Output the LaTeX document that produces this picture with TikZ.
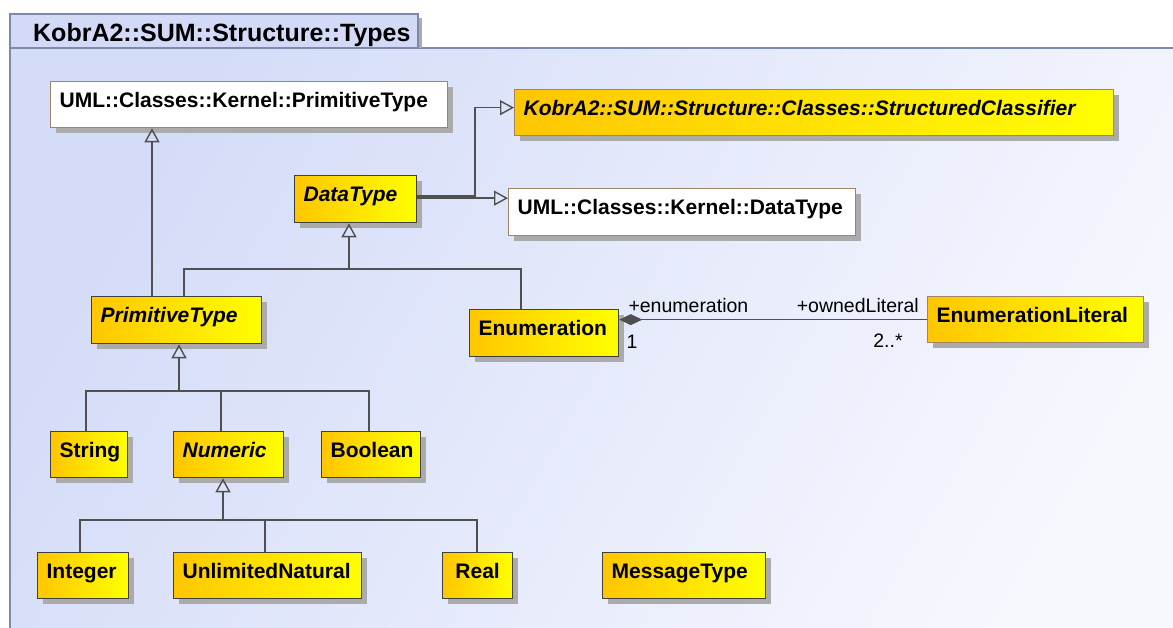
\documentclass[tikz,border=0pt]{standalone}
\usepackage{fontspec}
\setmainfont{Liberation Sans}
\usetikzlibrary{arrows.meta,shadows,calc}

\definecolor{lineC}{HTML}{505050}
\definecolor{darkB}{HTML}{404040}
\definecolor{brownB}{HTML}{A08468}
\definecolor{yOr}{HTML}{FFC600}
\definecolor{yYe}{HTML}{FFFF00}
\definecolor{bgA}{HTML}{D4DCF8}
\definecolor{bgB}{HTML}{F7F8FE}
\definecolor{tabC}{HTML}{D2DAF8}
\definecolor{frameC}{HTML}{7C8AAC}
\definecolor{shadowC}{HTML}{ABABAB}

\tikzset{
  cls/.style={draw=darkB, line width=1.3pt, anchor=north west, inner xsep=9pt, inner ysep=0pt,
    text height=15pt, text depth=10pt, align=left,
    font=\fontsize{21}{24}\selectfont\bfseries,
    general shadow={fill=shadowC, shadow xshift=5pt, shadow yshift=-5pt},
    execute at begin node={\hyphenpenalty=10000\exhyphenpenalty=10000}},
  ycls/.style={cls, left color=yOr, right color=yYe},
  wcls/.style={cls, fill=white, draw=brownB},
  bcls/.style={ycls, draw=brownB},
  abst/.style={font=\fontsize{21}{24}\selectfont\bfseries\itshape},
  sz/.style n args={2}{minimum height=#2pt, text width=#1pt},
  line/.style={draw=lineC, line width=1.5pt},
  gen/.style={line, -{Triangle[open, length=14pt, width=15pt, line width=1.4pt]}},
  comp/.style={line, -{Diamond[length=23pt, width=11pt]}},
  lbl/.style={font=\fontsize{19.5}{22}\selectfont, inner sep=0pt, text=black}
}

\begin{document}
\begin{tikzpicture}[x=1pt,y=-1pt]
\useasboundingbox (0,0) rectangle (1173,628);

% package frame
\shade[left color=bgA, right color=bgB, shading angle=60] (10,48) rectangle (1200,660);
\draw[frameC, line width=1.5pt] (1200,48) -- (10,48) -- (10,660);
\fill[shadowC] (418.5,18) rectangle (422,48);
\draw[fill=tabC, draw=frameC, line width=1.5pt] (10,14) rectangle (418,48);
\node[anchor=base west, font=\fontsize{25}{28}\selectfont\bfseries, inner sep=0pt] (title) at (33,42) {KobrA2::SUM::Structure::Types};

% classes
\node[wcls, sz={379}{46}] (upml) at (50,81) {UML::Classes::Kernel::PrimitiveType};
\node[bcls, abst, sz={581}{46}] (sc) at (514,89) {KobrA2::SUM::Structure::Classes::StructuredClassifier};
\node[ycls, abst, sz={104}{47}] (dt) at (294,175) {DataType};
\node[wcls, sz={329}{47}] (udt) at (508,188) {UML::Classes::Kernel::DataType};
\node[ycls, abst, sz={152}{47}] (prim) at (91,296) {PrimitiveType};
\node[ycls, sz={131}{47}] (enum) at (469,309) {Enumeration};
\node[bcls, sz={198}{46}] (lit) at (927,296) {EnumerationLiteral};
\node[ycls, sz={59}{46}] (string) at (50,431) {String};
\node[ycls, abst, sz={92}{46}] (numeric) at (173,431) {Numeric};
\node[ycls, sz={81}{46}] (boolean) at (321,431) {Boolean};
\node[ycls, sz={73}{46}] (int) at (37,552) {Integer};
\node[ycls, sz={170}{46}] (unl) at (173,552) {UnlimitedNatural};
\node[ycls, sz={52}{46}, align=center] (real) at (442,552) {Real};
\node[ycls, sz={145}{46}] (msg) at (602,552) {MessageType};

% generalizations
\draw[gen] ([xshift=61pt]prim.north west) -- ([xshift=61pt]prim.north west |- upml.south);
\draw[gen] ([yshift=3pt]dt.east) -| ([xshift=-39pt,yshift=5pt]sc.west) -- ([yshift=5pt]sc.west);
\draw[gen] ([yshift=1pt]dt.east) -- ([yshift=1pt]dt.east -| udt.west);

\coordinate (dtbar) at (349,269);
\draw[gen] (dtbar) -- (dtbar |- dt.south);
\draw[line] ([xshift=93pt]prim.north west) |- (dtbar) -| ([xshift=52pt]enum.north west);

\coordinate (pbar) at (179,391);
\draw[gen] (pbar) -- (pbar |- prim.south);
\draw[line] ([xshift=36pt]string.north west) |- (pbar) -| ([xshift=48pt]boolean.north west);
\draw[line] ([xshift=48pt]numeric.north west) -- ([xshift=48pt]numeric.north west |- pbar);

\coordinate (nbar) at (223,520);
\draw[gen] (nbar) -- (nbar |- numeric.south);
\draw[line] ([xshift=43pt]int.north west) |- (nbar) -| ([xshift=35pt]real.north west);
\draw[line] ([xshift=92pt]unl.north west) -- ([xshift=92pt]unl.north west |- nbar);

% composition
\draw[comp] (lit.west) -- (lit.west -| enum.east);
\node[lbl, anchor=base west] (lenum) at ([xshift=9pt,yshift=20.5pt]enum.east) {+enumeration};
\node[lbl, anchor=base west] (lone) at ([xshift=7pt,yshift=-15.5pt]enum.east) {1};
\node[lbl, anchor=base east] (lowned) at ([xshift=-8pt,yshift=7pt]lit.west) {+ownedLiteral};
\node[lbl, anchor=base] (lmult) at ([xshift=-39pt,yshift=-28pt]lit.west) {2..*};
\end{tikzpicture}
\end{document}
